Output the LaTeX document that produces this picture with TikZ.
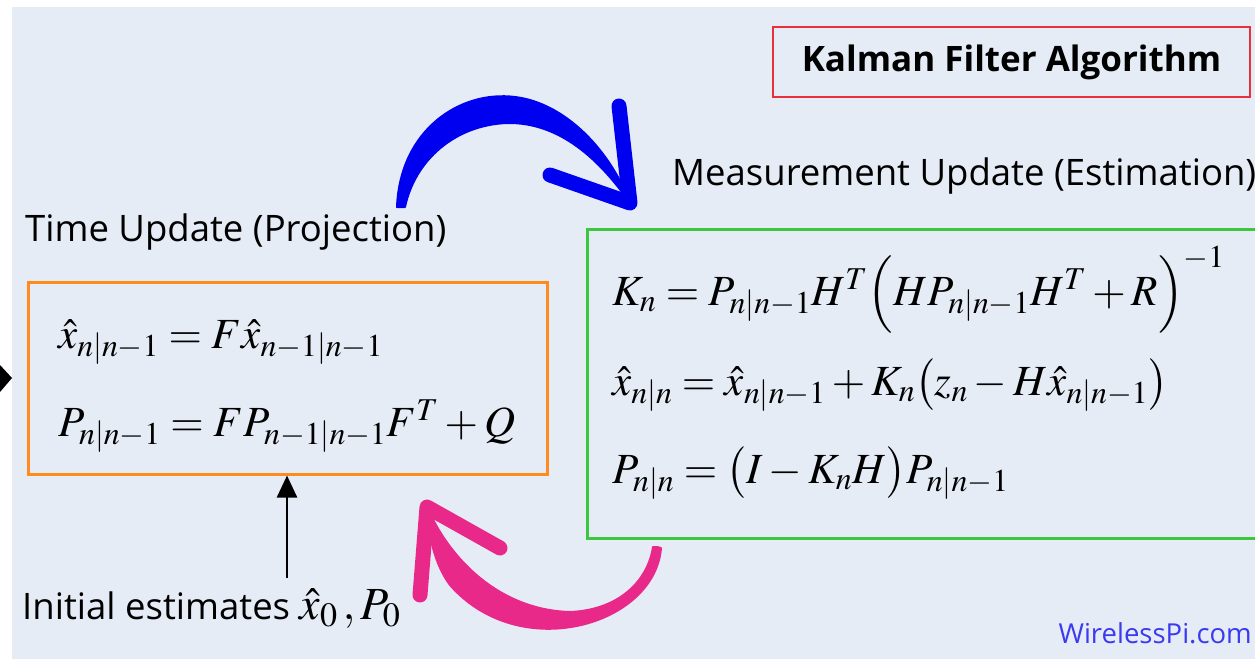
\documentclass[tikz,border=0pt]{standalone}
\usepackage{mathptmx}
\usepackage[no-math]{fontspec}
\setsansfont{Open Sans}
\usetikzlibrary{positioning,arrows.meta}
\definecolor{bgblue}{HTML}{E6ECF6}
\definecolor{boxred}{HTML}{E8303A}
\definecolor{boxorange}{HTML}{FF8A1E}
\definecolor{boxgreen}{HTML}{3CC83C}
\definecolor{arrowblue}{HTML}{0000F0}
\definecolor{arrowpink}{HTML}{E8298A}
\definecolor{siteblue}{HTML}{3A3AF0}
\begin{document}
\begin{tikzpicture}[x=1pt, y=-1pt, >=Triangle,
    caption/.style={font=\sffamily\fontsize{36.5}{40}\selectfont, inner sep=0pt, anchor=west},
    eqline/.style={font=\fontsize{43}{48}\selectfont, inner sep=0pt, anchor=base west},
    stepbox/.style={draw, line width=2.5pt, anchor=north west, inner sep=0pt}]
    \useasboundingbox (0,0) rectangle (1255,659);
    \fill[bgblue] (12,7) rectangle (1255,659);

    % title
    \node[draw=boxred, line width=2pt, minimum width=477pt, minimum height=70pt,
          font=\sffamily\bfseries\fontsize{35}{40}\selectfont] (title) at (1011.5,62) {Kalman Filter Algorithm};

    % time update
    \node[caption] (tulabel) at (25,232) {Time Update (Projection)};
    \node[stepbox, draw=boxorange, minimum width=519pt, minimum height=192pt] (tu) at (27,281) {};
    \node[eqline] (tua) at (58,348) {$\hat{x}_{n|n-1} = F\hat{x}_{n-1|n-1}$};
    \node[eqline] (tub) at (58,436) {$P_{n|n-1} = FP_{n-1|n-1}F^{T} + Q$};

    % measurement update
    \node[caption] (mulabel) at (672,176) {Measurement Update (Estimation)};
    \node[stepbox, draw=boxgreen, minimum width=680pt, minimum height=309pt] (mu) at (586,228) {};
    \node[eqline] (mua) at (612,305) {$K_{n} = P_{n|n-1}H^{T}\Bigl(HP_{n|n-1}H^{T} + R\Bigr)^{-1}$};
    \node[eqline] (mub) at (612,395) {$\hat{x}_{n|n} = \hat{x}_{n|n-1} + K_{n}\bigl(z_{n} - H\hat{x}_{n|n-1}\bigr)$};
    \node[eqline] (muc) at (612,483) {$P_{n|n} = \bigl(I - K_{n}H\bigr)P_{n|n-1}$};

    % initial estimates
    \node[caption] (init) at (22,609)
        {Initial estimates {\fontsize{46}{50}\selectfont$\hat{x}_{0}\,, P_{0}$}};
    \coordinate (src) at (287,578);
    \draw[-{Triangle[length=22pt,width=20pt]}, line width=2.5pt] (src) -- (src |- tu.south);

    % arrow tip at the left edge
    \fill (0,365) -- (12,378) -- (0,392) -- cycle;

    % blue arrow: time update -> measurement update
    \coordinate (btail) at (397,207);
    \coordinate (btip) at (630,203);
    \filldraw[arrowblue, line width=2pt, line join=round]
        (btail) .. controls (400,130) and (460,90) .. (515,97)
        .. controls (565,103) and (610,150) .. (btip)
        .. controls (600,160) and (560,122) .. (507,123)
        .. controls (455,125) and (415,160) .. (405,207) -- cycle;
    \draw[arrowblue, line width=15pt, line cap=round, line join=round] (619,106) -- (btip) -- (550,175);

    % pink arrow: measurement update -> time update
    \coordinate (ptail) at (657,547);
    \coordinate (ptip) at (427,507);
    \filldraw[arrowpink, line width=2pt, line join=round]
        (ptail) -- (661,548) .. controls (655,625) and (520,665) .. (450,585)
        .. controls (435,565) and (428,535) .. (ptip)
        .. controls (450,560) and (500,610) .. (570,612)
        .. controls (620,610) and (648,580) .. (653,547) -- cycle;
    \draw[arrowpink, line width=15pt, line cap=round, line join=round] (500,548) -- (ptip) -- (420,595);

    % site
    \node[font=\sffamily\fontsize{27.5}{30}\selectfont, text=siteblue, inner sep=0pt, anchor=east] (site) at (1252,633) {WirelessPi.com};
\end{tikzpicture}
\end{document}
